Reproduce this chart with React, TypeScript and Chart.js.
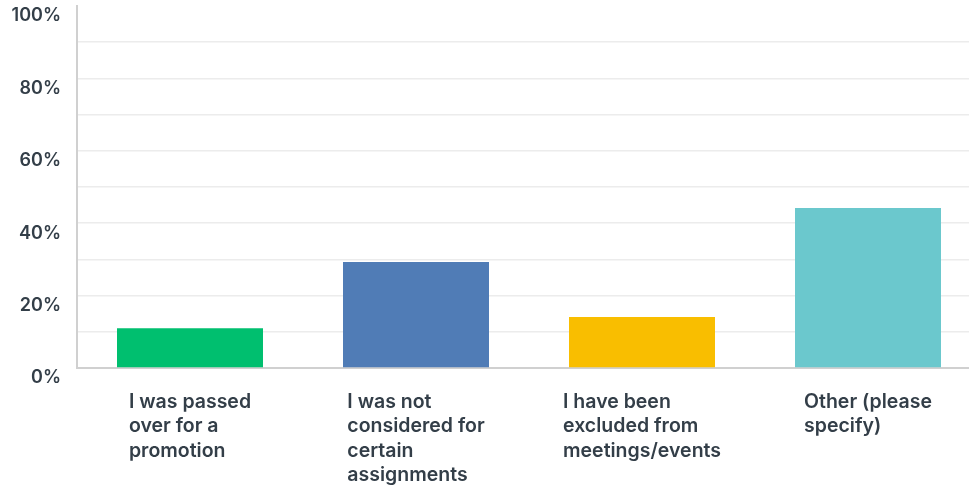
import React, { useEffect, useRef } from "react";
import { Chart, registerables } from "chart.js";

Chart.register(...registerables);

const categories: string[][] = [
  ["I was passed", "over for a", "promotion"],
  ["I was not", "considered for", "certain", "assignments"],
  ["I have been", "excluded from", "meetings/events"],
  ["Other (please", "specify)"],
];
const values: number[] = [11.0, 29.3, 14.1, 44.2];
const barColors: string[] = ["#00bf6f", "#507cb6", "#f9be00", "#6bc8cd"];
const yTickLabels: number[] = [0, 20, 40, 60, 80, 100];

const TEXT_COLOR = "#333e48";
const FONT_FAMILY = "Inter, Roboto, 'Noto Sans', sans-serif";

const leftBlockLabels = {
  id: "leftBlockLabels",
  afterDraw(chart: any) {
    const ctx = chart.ctx;
    const xs = chart.scales.x;
    const area = chart.chartArea;
    ctx.save();
    ctx.font = `600 19.5px ${FONT_FAMILY}`;
    ctx.fillStyle = TEXT_COLOR;
    ctx.textAlign = "left";
    ctx.textBaseline = "alphabetic";
    categories.forEach((lines, i) => {
      const cx = xs.getPixelForValue(i);
      const w = Math.max(...lines.map((l) => ctx.measureText(l).width));
      const x0 = cx - w / 2;
      lines.forEach((line, k) => {
        ctx.fillText(line, x0, area.bottom + 40 + k * 24.4);
      });
    });
    ctx.restore();
  },
};

export default function App() {
  const ref = useRef<HTMLCanvasElement | null>(null);
  useEffect(() => {
    if (!ref.current) return;
    const chart = new Chart(ref.current, {
      type: "bar",
      data: {
        labels: categories.map((c) => c.join(" ")),
        datasets: [
          {
            data: values,
            backgroundColor: barColors,
            borderWidth: 0,
            barPercentage: 0.646,
            categoryPercentage: 1,
          },
        ],
      },
      options: {
        animation: false,
        responsive: false,
        maintainAspectRatio: false,
        layout: { padding: { top: 6, right: 0, left: 0, bottom: 0 } },
        plugins: {
          legend: { display: false },
          tooltip: { enabled: false },
        },
        scales: {
          x: {
            grid: { display: false, drawTicks: false },
            border: { display: true, color: "#d0d0d0", width: 2 },
            ticks: { display: false },
            afterFit: (s: any) => {
              s.height = 121;
              s.paddingLeft = 0;
              s.paddingRight = 0;
            },
          },
          y: {
            min: 0,
            max: 100,
            grid: {
              color: (c: any) =>
                c.tick && c.tick.value === 100 ? "rgba(0,0,0,0)" : "#ececec",
              lineWidth: 1.5,
              drawTicks: false,
            },
            border: { display: true, color: "#d0d0d0", width: 2 },
            ticks: {
              stepSize: 10,
              padding: 16,
              labelOffset: 10,
              color: TEXT_COLOR,
              font: { family: FONT_FAMILY, size: 18, weight: "600" },
              callback: (v: any) =>
                yTickLabels.includes(Number(v)) ? `${v}%` : "",
            },
            afterFit: (s: any) => {
              s.width = 77;
              s.paddingTop = 0;
              s.paddingBottom = 0;
            },
          },
        },
      },
      plugins: [leftBlockLabels],
    });
    return () => chart.destroy();
  }, []);
  return (
    <div
      style={{
        position: "absolute",
        left: 0,
        top: 0,
        width: 969,
        height: 489,
        overflow: "hidden",
        background: "#fff",
      }}
    >
      <canvas ref={ref} width={981} height={489} style={{ display: "block" }} />
    </div>
  );
}
